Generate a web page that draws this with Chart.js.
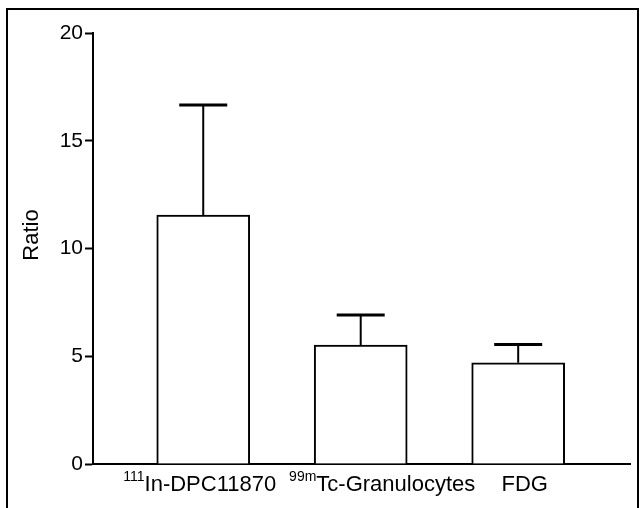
<!DOCTYPE html>
<html>
<head>
<meta charset="utf-8">
<script src="https://cdn.jsdelivr.net/npm/chart.js@4.4.1/dist/chart.umd.min.js"></script>
<style>
    html, body { margin: 0; padding: 0; background: #fff; }
    #wrap { position: relative; width: 641px; height: 508px; }
</style>
</head>
<body>
<div id="wrap"><canvas id="barChart" width="641" height="508"></canvas></div>
<script>
// values
const categories = ['In-DPC11870', 'Tc-Granulocytes', 'FDG'];
const isotopes = ['111', '99m', ''];
const ratioMeans = [11.55, 5.52, 4.70];
const ratioErrors = [5.11, 1.39, 0.85];
const yTicks = [0, 5, 10, 15, 20];
const yTitle = 'Ratio';

document.addEventListener('DOMContentLoaded', function () {
    const fontFamily = '"Liberation Sans", Arial, sans-serif';

    // frame, error bars and the x labels (with superscripts)
    const extras = {
        id: 'extras',
        beforeDraw(chart) {
            const ctx = chart.ctx;
            ctx.save();
            ctx.fillStyle = '#fff';
            ctx.fillRect(0, 0, chart.width, chart.height);
            ctx.strokeStyle = '#000';
            ctx.lineWidth = 2;
            ctx.strokeRect(7, 9, 631, 530);
            ctx.restore();
        },
        afterDatasetsDraw(chart) {
            const ctx = chart.ctx;
            const yScale = chart.scales.y;
            const meta = chart.getDatasetMeta(0);
            ctx.save();
            ctx.strokeStyle = '#000';
            meta.data.forEach((bar, i) => {
                const top = yScale.getPixelForValue(ratioMeans[i] + ratioErrors[i]);
                ctx.lineWidth = 2;
                ctx.beginPath();
                ctx.moveTo(bar.x, bar.y);
                ctx.lineTo(bar.x, top);
                ctx.stroke();
                ctx.lineWidth = 3;
                ctx.beginPath();
                ctx.moveTo(bar.x - 24, top);
                ctx.lineTo(bar.x + 24, top);
                ctx.stroke();
            });
            ctx.restore();
        },
        afterDraw(chart) {
            const ctx = chart.ctx;
            const area = chart.chartArea;
            const meta = chart.getDatasetMeta(0);
            const shift = [-3.5, 21.5, 6.5];
            ctx.save();
            ctx.fillStyle = '#000';
            ctx.textBaseline = 'alphabetic';
            meta.data.forEach((bar, i) => {
                ctx.font = '14px ' + fontFamily;
                const supW = isotopes[i] ? ctx.measureText(isotopes[i]).width : 0;
                ctx.font = '22px ' + fontFamily;
                const mainW = ctx.measureText(categories[i]).width;
                let x = bar.x + shift[i] - (supW + mainW) / 2;
                const base = area.bottom + 27;
                if (isotopes[i]) {
                    ctx.font = '14px ' + fontFamily;
                    ctx.fillText(isotopes[i], x, base - 10);
                    x += supW;
                }
                ctx.font = '22px ' + fontFamily;
                ctx.fillText(categories[i], x, base);
            });

            // y title
            ctx.font = '22px ' + fontFamily;
            ctx.textAlign = 'center';
            ctx.textBaseline = 'middle';
            ctx.translate(32, 235);
            ctx.rotate(-Math.PI / 2);
            ctx.fillText(yTitle, 0, 0);
            ctx.restore();
        }
    };

    const ctx = document.getElementById('barChart').getContext('2d');
    new Chart(ctx, {
        type: 'bar',
        data: {
            datasets: [{
                label: yTitle,
                data: ratioMeans.map((v, i) => ({ x: i, y: v })),
                backgroundColor: '#fff',
                borderColor: '#000',
                borderWidth: 2,
                barThickness: 93
            }]
        },
        options: {
            responsive: false,
            animation: false,
            devicePixelRatio: 1,
            layout: {
                padding: { top: 33, right: 11, bottom: 44, left: 0 }
            },
            plugins: {
                legend: { display: false },
                tooltip: { enabled: false }
            },
            scales: {
                x: {
                    type: 'linear',
                    min: -0.7,
                    max: 2.71,
                    offset: false,
                    ticks: { display: false },
                    grid: { display: false, offset: false },
                    border: { display: true, color: '#000', width: 2 },
                    afterFit: function (scale) { scale.height = 0; }
                },
                y: {
                    min: yTicks[0],
                    max: yTicks[yTicks.length - 1],
                    afterBuildTicks: function (scale) {
                        scale.ticks = yTicks.map(v => ({ value: v }));
                    },
                    ticks: {
                        color: '#000',
                        padding: 2,
                        font: { family: fontFamily, size: 21 }
                    },
                    grid: {
                        drawOnChartArea: false,
                        drawTicks: true,
                        tickLength: 8,
                        tickColor: '#000',
                        tickWidth: 2
                    },
                    border: { display: true, color: '#000', width: 2 },
                    afterFit: function (scale) { scale.width = 93; }
                }
            }
        },
        plugins: [extras]
    });
});
</script>
</body>
</html>
